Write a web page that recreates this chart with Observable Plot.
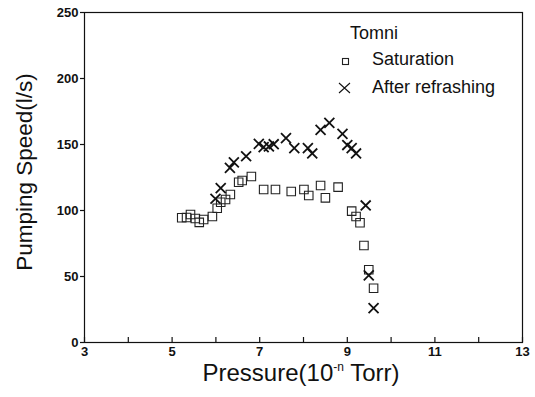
<!DOCTYPE html>
<html><head><meta charset="utf-8">
<script src="https://cdn.jsdelivr.net/npm/d3@7"></script>
<script src="https://cdn.jsdelivr.net/npm/@observablehq/plot@0.6"></script>
<style>
body{margin:0;background:#fff;}
</style></head><body><div id="wrap"></div>
<script>
// Saturation (squares)
const satX = [5.22,5.33,5.42,5.53,5.62,5.72,5.92,6.03,6.11,6.22,6.33,6.52,6.60,6.81,7.09,7.36,7.72,8.01,8.12,8.39,8.50,8.79,9.10,9.20,9.29,9.38,9.49,9.60];
const satY = [94.5,94.7,97,93.9,91,93.2,95.5,101.7,106.3,108.3,112.1,121.4,122.7,125.8,115.9,115.9,114.4,115.9,111.4,118.9,109.6,117.7,99.5,95.5,90.7,73.5,55.1,41.1];
// After refrashing (crosses)
const refX = [5.99,6.11,6.32,6.41,6.69,6.98,7.09,7.21,7.32,7.60,7.79,8.10,8.20,8.39,8.59,8.89,9.00,9.10,9.20,9.42,9.49,9.60];
const refY = [108.9,117,132.3,136.4,141.1,150.5,148,148.5,150.2,154.9,147.2,147.2,143.2,161.1,166.4,158.1,149.6,147.3,143.2,103.8,50.8,26];
const xTicks = [3,5,7,9,11,13];
const xMinor = [4,6,8,10,12];
const yTicks = [0,50,100,150,200,250];
const legendTitle = "Tomni";
const seriesNames = ["Saturation","After refrashing"];
const yTitle = "Pumping Speed(l/s)";

const sat = satX.map((x,i)=>({x, y: satY[i]}));
const ref = refX.map((x,i)=>({x, y: refY[i]}));
const FONT = '"Liberation Sans", Arial, Helvetica, sans-serif';

const chart = Plot.plot({
  width: 535, height: 397,
  marginLeft: 84, marginRight: 13, marginTop: 12, marginBottom: 55,
  style: {fontFamily: FONT, color: "#111", background: "#fff"},
  x: {domain: [3, 13]},
  y: {domain: [0, 250]},
  marks: [
    Plot.frame({stroke: "#111", strokeWidth: 1.2}),
    Plot.axisX({ticks: xTicks, tickSize: 0, tickPadding: 4, fontSize: 13, fontWeight: "bold", label: null}),
    Plot.axisX({ticks: xTicks.concat(xMinor), tickSize: -5, tickFormat: () => "", label: null, strokeWidth: 1.2}),
    Plot.axisY({ticks: yTicks, tickSize: 4, tickPadding: 2, fontSize: 13, fontWeight: "bold", label: null, strokeWidth: 1.2}),
    Plot.dot(sat, {x: "x", y: "y", symbol: "square", r: 4.8, stroke: "#222", strokeWidth: 1.1, fill: "none"}),
    Plot.dot(ref, {x: "x", y: "y", symbol: "times", r: 4.6, stroke: "#111", strokeWidth: 1.8})
  ]
});
document.getElementById("wrap").appendChild(chart);

const svg = d3.select(chart);
const g = svg.append("g").attr("font-family", FONT).attr("fill", "#111").attr("text-anchor", "start");
// axis titles
g.append("text").attr("transform", "translate(32,172) rotate(-90)").attr("text-anchor", "middle")
  .attr("font-size", 22.5).text(yTitle);
const xt = g.append("text").attr("x", 301).attr("y", 381).attr("text-anchor", "middle").attr("font-size", 24);
xt.append("tspan").text("Pressure(10");
xt.append("tspan").attr("font-size", 12).attr("dy", -10).text("-n");
xt.append("tspan").attr("dy", 10).text(" Torr)");
// legend
g.append("text").attr("x", 350).attr("y", 39).attr("font-size", 18).text(legendTitle);
g.append("rect").attr("x", 342.5).attr("y", 58.5).attr("width", 6).attr("height", 6)
  .attr("fill", "none").attr("stroke", "#222").attr("stroke-width", 1.1);
g.append("text").attr("x", 372).attr("y", 65).attr("font-size", 18).text(seriesNames[0]);
g.append("path").attr("d", "M339,83L350,93M350,83L339,93").attr("stroke", "#111").attr("stroke-width", 1.1).attr("fill", "none");
g.append("text").attr("x", 372).attr("y", 93).attr("font-size", 18).text(seriesNames[1]);
</script>
</body></html>
